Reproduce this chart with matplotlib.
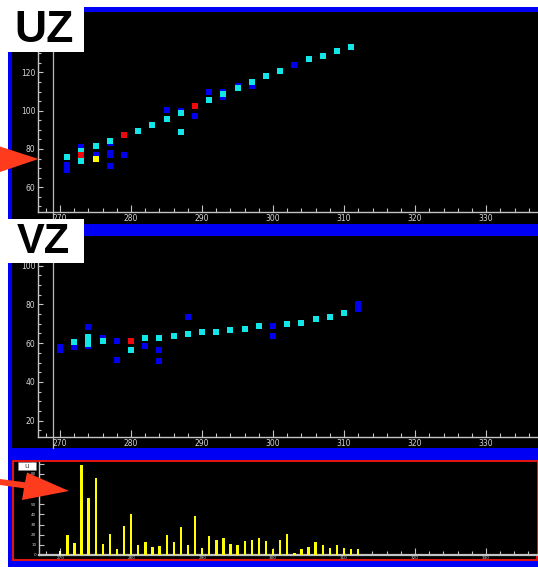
import matplotlib
matplotlib.use('Agg')
import matplotlib.pyplot as plt
from matplotlib.patches import Rectangle, Polygon
from matplotlib.transforms import blended_transform_factory
from matplotlib.ticker import MultipleLocator

# ---------------- data ----------------
# UZ panel
uz_cyan_x = [271, 273, 273, 275, 277, 281, 283, 285, 287, 287, 291, 293, 295, 297, 299, 301, 305, 307, 309, 311]
uz_cyan_y = [76.0, 79.1, 73.9, 81.5, 84.0, 89.5, 92.7, 95.8, 98.8, 89.0, 105.7, 108.5, 112.0, 115.1, 118.0, 120.7, 126.8, 128.5, 131.1, 133.0]
uz_blue_x = [271, 271, 273, 275, 277, 277, 277, 277, 279, 285, 287, 289, 291, 293, 293, 295, 297, 303]
uz_blue_y = [71.6, 69.0, 81.2, 76.8, 83.0, 77.7, 76.7, 71.1, 76.7, 100.2, 100.0, 97.0, 110.0, 110.0, 107.0, 113.0, 113.0, 123.6]
uz_red_x = [273, 279, 289]
uz_red_y = [76.7, 87.1, 102.6]
uz_yellow_x = [275]
uz_yellow_y = [74.6]

# VZ panel
vz_cyan_x = [272, 274, 274, 274, 276, 280, 282, 284, 286, 288, 290, 292, 294, 296, 298, 302, 304, 306, 308, 310]
vz_cyan_y = [60.6, 63.0, 61.6, 59.5, 61.2, 56.3, 62.5, 62.5, 63.7, 64.5, 65.6, 65.6, 66.9, 67.4, 68.7, 69.8, 70.5, 72.3, 73.6, 75.4]
vz_blue_x = [270, 270, 272, 274, 274, 276, 278, 278, 282, 284, 284, 288, 300, 300, 312, 312]
vz_blue_y = [58.0, 56.5, 58.1, 68.5, 58.5, 62.6, 61.2, 51.3, 58.7, 56.3, 50.8, 73.6, 68.7, 63.7, 80.0, 77.6]
vz_red_x = [280]
vz_red_y = [61.2]

# histogram panel
bar_x = list(range(270, 313))
bar_h = [4, 20, 12, 89, 56, 76, 11, 21, 6, 29, 40, 10, 13, 8, 9, 20, 13, 28, 10, 38,
         7, 19, 15, 17, 11, 10, 14, 15, 17, 14, 6, 15, 21, 2, 6, 8, 13, 10, 7, 10, 7, 6, 6]

ref_x = 269
x_ticks = [270, 280, 290, 300, 310, 320, 330]
uz_yticks = [60, 80, 100, 120]
vz_yticks = [20, 40, 60, 80, 100]
hist_yticks = [0, 10, 20, 30, 40, 50, 60, 70, 80, 90]

# ---------------- layout helpers ----------------
W, H = 538, 567
fig = plt.figure(figsize=(W / 100, H / 100), dpi=100, facecolor='white')


def fx(px):
    return px / W


def fy(py):
    return 1 - py / H


def frect(x0, y0, x1, y1):
    return [fx(x0), fy(y1), fx(x1) - fx(x0), fy(y0) - fy(y1)]


def add_rect(x0, y0, x1, y1, **kw):
    r = Rectangle((fx(x0), fy(y1)), fx(x1) - fx(x0), fy(y0) - fy(y1),
                  transform=fig.transFigure, **kw)
    fig.add_artist(r)
    return r


BLUE = '#0000f4'
GREY = '#c4c4c4'
LBL = '#d6d6d6'

# backgrounds
add_rect(8, 7, 538, 567, facecolor=BLUE, edgecolor='none', zorder=-3)
add_rect(12, 12, 538, 224, facecolor='black', edgecolor='none', zorder=-2)
add_rect(12, 236, 538, 448, facecolor='black', edgecolor='none', zorder=-2)
add_rect(13, 461, 537, 560, facecolor='black', edgecolor='#e01414', lw=1.5, zorder=-2)

XL = (266.9, 337.3)


def style_axes(ax, ylim, yticks, lab=5.5):
    ax.set_facecolor('black')
    ax.set_xlim(*XL)
    ax.set_ylim(*ylim)
    for s in ['top', 'right']:
        ax.spines[s].set_visible(False)
    for s in ['left', 'bottom']:
        ax.spines[s].set_color(GREY)
        ax.spines[s].set_linewidth(1.0)
    ax.set_xticks(x_ticks)
    ax.set_yticks(yticks)
    ax.xaxis.set_minor_locator(MultipleLocator(2))
    ax.tick_params(axis='both', which='both', direction='in', colors=GREY,
                   labelcolor=LBL, labelsize=lab, width=0.8)
    ax.tick_params(axis='x', which='major', length=5, pad=1.5)
    ax.tick_params(axis='x', which='minor', length=2.8)
    ax.tick_params(axis='y', which='major', length=3.5, pad=2)
    ax.tick_params(axis='y', which='minor', length=2)


def ref_line(ax, below):
    tr = blended_transform_factory(ax.transData, ax.transAxes)
    ax.plot([ref_x, ref_x], [below, 1], transform=tr, clip_on=False,
            color='#b8b8b8', lw=0.9, zorder=1)


ms = 16
# ---- UZ ----
ax1 = fig.add_axes(frect(38, 12, 538, 212))
style_axes(ax1, (47.1, 151.5), uz_yticks)
ax1.yaxis.set_minor_locator(MultipleLocator(5))
ref_line(ax1, -0.03)
ax1.scatter(uz_blue_x, uz_blue_y, s=ms, marker='s', color='#0000ee', lw=0, zorder=3)
ax1.scatter(uz_cyan_x, uz_cyan_y, s=ms, marker='s', color='#12e6e6', lw=0, zorder=4)
ax1.scatter(uz_red_x, uz_red_y, s=ms, marker='s', color='#ee0a0a', lw=0, zorder=5)
ax1.scatter(uz_yellow_x, uz_yellow_y, s=ms, marker='s', color='#ffff00', lw=0, zorder=6)

# ---- VZ ----
ax2 = fig.add_axes(frect(38, 236, 538, 437))
style_axes(ax2, (11.6, 115.3), vz_yticks)
ax2.yaxis.set_minor_locator(MultipleLocator(5))
ref_line(ax2, -0.055)
ax2.scatter(vz_blue_x, vz_blue_y, s=ms, marker='s', color='#0000ee', lw=0, zorder=3)
ax2.scatter(vz_cyan_x, vz_cyan_y, s=ms, marker='s', color='#12e6e6', lw=0, zorder=4)
ax2.scatter(vz_red_x, vz_red_y, s=ms, marker='s', color='#ee0a0a', lw=0, zorder=5)

# ---- histogram ----
ax3 = fig.add_axes(frect(39, 462, 537, 555))
style_axes(ax3, (0, 91.5), hist_yticks, lab=3)
ax3.set_xlim(267.0, 337.2)
ax3.spines['bottom'].set_linewidth(1.6)
bar_colors = ['#ffffa8'] + ['#ffff00'] * (len(bar_x) - 1)
ax3.bar(bar_x, bar_h, width=0.33, color=bar_colors, zorder=3)
ax3.tick_params(axis='x', which='major', pad=0.5)

# ---- label boxes ----
add_rect(0, 0, 84, 52, facecolor='white', edgecolor='none', zorder=10)
add_rect(0, 219, 84, 263, facecolor='white', edgecolor='none', zorder=10)
fig.text(fx(44), fy(31), 'UZ', ha='center', va='center', fontsize=32,
         fontweight='bold', family='Liberation Sans', color='black', zorder=11)
fig.text(fx(43), fy(242), 'VZ', ha='center', va='center', fontsize=30,
         fontweight='bold', family='Liberation Sans', color='black', zorder=11)
add_rect(18, 462, 36, 470, facecolor='white', edgecolor='#888888', lw=0.4, zorder=10)
fig.text(fx(27), fy(466), 'u', ha='center', va='center', fontsize=5,
         color='#444444', zorder=11)

# ---- arrows ----
ARROW = '#ff3b1e'
fig.add_artist(Polygon([(fx(0), fy(146.5)), (fx(38.5), fy(159)), (fx(0), fy(172))],
                       closed=True, transform=fig.transFigure, facecolor=ARROW,
                       edgecolor='none', zorder=12))
fig.add_artist(Polygon([(fx(0), fy(479)), (fx(25), fy(482.3)), (fx(27), fy(472.5)),
                        (fx(69), fy(491)), (fx(22), fy(500)), (fx(24), fy(488.3)),
                        (fx(0), fy(485))],
                       closed=True, transform=fig.transFigure, facecolor=ARROW,
                       edgecolor='none', zorder=12))

fig.savefig('out.png', dpi=100, facecolor='white')
